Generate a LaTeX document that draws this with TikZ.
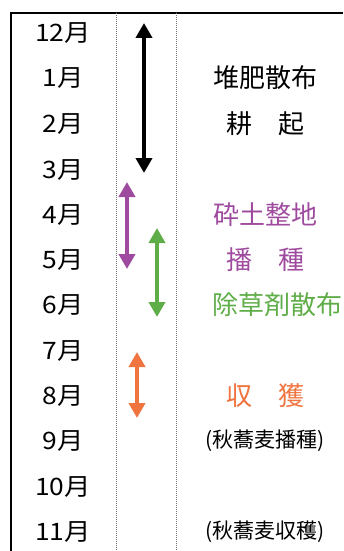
\documentclass[tikz,border=0pt]{standalone}
\usepackage{fontspec}
\setmainfont{Noto Sans CJK JP}
\newfontfamily\widefont[FakeStretch=1.1]{Noto Sans CJK JP}
\usetikzlibrary{arrows.meta}
\definecolor{cpurple}{HTML}{9E4A9E}
\definecolor{cgreen}{HTML}{5FAD48}
\definecolor{corange}{HTML}{EF7440}
\tikzset{
  month/.style={inner sep=0pt, font=\widefont\fontsize{24}{24}\selectfont},
  task/.style={inner sep=0pt, font=\fontsize{26}{26}\selectfont},
  note/.style={inner sep=0pt, font=\fontsize{21}{21}\selectfont},
  frame/.style={line width=2pt, black},
  sep/.style={line width=1.6pt, black!55, dash pattern=on 1pt off 1pt},
  period/.style={line width=4pt, {Triangle[width=16pt,length=15pt]}-{Triangle[width=16pt,length=15pt]}},
}
\begin{document}
\begin{tikzpicture}[x=1pt,y=-1pt]
\useasboundingbox (0,0) rectangle (343,551);
% frame
\coordinate (tl) at (11,13);
\coordinate (tr) at (343,13);
\coordinate (bl) at (11,551);
\draw[frame] (tr) -- (tl) -- (bl);
\coordinate (s1t) at (116.5,13);
\coordinate (s1b) at (116.5,551);
\coordinate (s2t) at (176.5,13);
\coordinate (s2b) at (176.5,551);
\draw[sep] (s1t) -- (s1b);
\draw[sep] (s2t) -- (s2b);
% months
\node[month] (m12) at (63,33) {12月};
\node[month] (m1) at (63,78) {1月};
\node[month] (m2) at (63,124) {2月};
\node[month] (m3) at (63,170) {3月};
\node[month] (m4) at (63,215) {4月};
\node[month] (m5) at (63,260) {5月};
\node[month] (m6) at (63,305) {6月};
\node[month] (m7) at (63,351) {7月};
\node[month] (m8) at (63,396) {8月};
\node[month] (m9) at (63,441) {9月};
\node[month] (m10) at (63,487) {10月};
\node[month] (m11) at (63,532) {11月};
% tasks
\node[task] (t1) at (265,78) {堆肥散布};
\node[task] (t2) at (265,124) {耕\hspace{1em}起};
\node[task, text=cpurple] (t3) at (265,215) {砕土整地};
\node[task, text=cpurple] (t4) at (265,260) {播\hspace{1em}種};
\node[task, text=cgreen, anchor=west] (t5) at (212,305) {除草剤散布};
\node[task, text=corange] (t6) at (265,396) {収\hspace{1em}獲};
\node[note] (t7) at (265,441) {(秋蕎麦播種)};
\node[note] (t8) at (265,532) {(秋蕎麦収穫)};
% arrows
\coordinate (a1t) at (144,23);
\coordinate (a1b) at (144,173);
\coordinate (a2t) at (127,182);
\coordinate (a2b) at (127,269);
\coordinate (a3t) at (157,228);
\coordinate (a3b) at (157,317);
\coordinate (a4t) at (137,352);
\coordinate (a4b) at (137,418);
\draw[period, black] (a1t) -- (a1b);
\draw[period, cpurple] (a2t) -- (a2b);
\draw[period, cgreen] (a3t) -- (a3b);
\draw[period, corange] (a4t) -- (a4b);
\end{tikzpicture}
\end{document}
